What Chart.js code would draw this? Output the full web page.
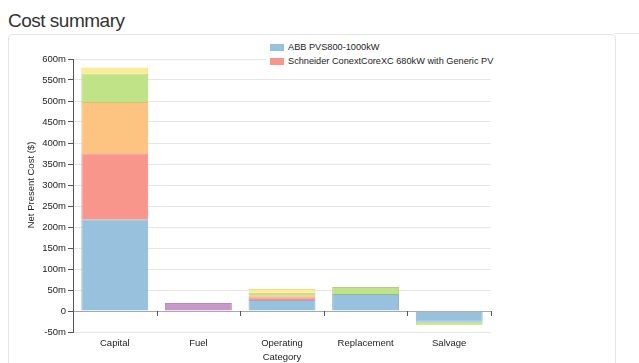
<!DOCTYPE html>
<html>
<head>
<meta charset="utf-8">
<script src="https://cdn.jsdelivr.net/npm/chart.js@4/dist/chart.umd.min.js"></script>
<style>
  html, body { margin: 0; padding: 0; background: #fff; }
  body { width: 639px; height: 363px; position: relative; overflow: hidden;
         font-family: "Liberation Sans", Arial, Helvetica, sans-serif; }
  h2 { position: absolute; left: 8px; top: 11px; margin: 0; font-size: 19px; line-height: 19px;
       letter-spacing: -0.5px; font-weight: normal; color: #333; }
  .panel { position: absolute; left: 8px; top: 34px; width: 606px; height: 360px;
           border: 1px solid #e4e4e4; border-radius: 4px; }
  .rule { position: absolute; left: 614px; top: 33px; width: 25px; height: 1px; background: #e8e8e8; }
  #chart { position: absolute; left: 0; top: 0; }
  #legend { position: absolute; left: 266px; top: 39px; background: #fff; padding: 1px 4px 1px 4px;
            font-size: 9.2px; color: #222; }
  #legend .row { height: 14px; display: flex; align-items: center; white-space: nowrap; }
  #legend .sw { width: 14px; height: 7px; margin-right: 4px; }
</style>
</head>
<body>
<h2>Cost summary</h2>
<div class="panel"></div>
<div class="rule"></div>
<canvas id="chart" width="639" height="363"></canvas>
<div id="legend"></div>
<script>
// Net present cost by category, in millions of dollars (null = no cost in that category)
const categories = ['Capital', 'Fuel', 'Operating', 'Replacement', 'Salvage'];
const abbPvs800 = [218.6, null, 26, 40.5, -25.5];
const schneiderConext = [157, null, 6.6, null, null];
const pvArray = [122, null, 4.8, null, null];
const storage = [68, null, 6.2, 16.5, -7.5];
const otherCosts = [14, null, 8.8, null, null];
const generator = [null, 19, null, null, null];
const legendNames = ['ABB PVS800-1000kW', 'Schneider ConextCoreXC 680kW with Generic PV'];
const yTicks = { min: -50, max: 600, step: 50 };

const FONT = '"Liberation Sans", Arial, Helvetica, sans-serif';

function series(label, data, fill, edge) {
  return { label, data, backgroundColor: fill, borderColor: edge, borderWidth: 1,
           barPercentage: 0.8, categoryPercentage: 1.0 };
}

const datasets = [
  series(legendNames[0], abbPvs800, '#97c1dd', '#86b1cf'),
  series(legendNames[1], schneiderConext, '#f9968c', '#ea877e'),
  series('PV', pvArray, '#fcc480', '#efb46f'),
  series('Storage', storage, '#bfe386', '#afd676'),
  series('Other', otherCosts, '#fdec88', '#f2de77'),
  series('Generator', generator, '#c998ca', '#ba88bc')
];

// Y-axis title centred over the 0..max span, plus boundary ticks on the zero line
const decorations = {
  id: 'decorations',
  afterDraw(chart) {
    const { ctx, scales: { x, y } } = chart;
    const y0 = y.getPixelForValue(0);
    ctx.save();
    ctx.strokeStyle = '#555';
    ctx.lineWidth = 1;
    for (let i = 0; i < categories.length; i++) {
      const px = Math.round(x.getPixelForValue(i + 0.5)) + 0.5;
      ctx.beginPath();
      ctx.moveTo(px, y0);
      ctx.lineTo(px, y0 + 5);
      ctx.stroke();
    }
    const cy = (y.getPixelForValue(yTicks.max) + y0) / 2;
    ctx.translate(31, cy);
    ctx.rotate(-Math.PI / 2);
    ctx.fillStyle = '#222';
    ctx.font = '9.5px ' + FONT;
    ctx.textAlign = 'center';
    ctx.textBaseline = 'middle';
    ctx.fillText('Net Present Cost ($)', 0, 0);
    ctx.restore();
  }
};

const chart = new Chart(document.getElementById('chart'), {
  type: 'bar',
  data: { labels: categories, datasets },
  plugins: [decorations],
  options: {
    responsive: false,
    animation: false,
    devicePixelRatio: 1,
    layout: { padding: { left: 0, right: 148, top: 59, bottom: 0 } },
    plugins: { legend: { display: false }, tooltip: { enabled: false } },
    scales: {
      x: {
        stacked: true,
        grid: { display: false, drawTicks: false },
        border: { display: false },
        ticks: { color: '#222', font: { family: FONT, size: 9.5 }, padding: 6, maxRotation: 0 },
        title: { display: true, text: 'Category', color: '#222',
                 font: { family: FONT, size: 9.5 }, padding: { top: 0, bottom: 0 } },
        afterFit(scale) { scale.height = 31; }
      },
      y: {
        stacked: true,
        min: yTicks.min,
        max: yTicks.max,
        ticks: {
          stepSize: yTicks.step,
          color: '#222',
          padding: 2,
          font: { family: FONT, size: 9.5 },
          callback: v => (v === 0 ? '0' : v + 'm')
        },
        grid: {
          color: c => (c.tick && c.tick.value === 0 ? '#a8a8a8' : '#e6e6e6'),
          tickColor: '#555',
          tickLength: 5
        },
        border: { display: true, color: '#555', width: 1 },
        afterFit(scale) { scale.width = 73; }
      }
    }
  }
});

// Legend lists the two named systems
const legend = document.getElementById('legend');
datasets.slice(0, 2).forEach(ds => {
  const row = document.createElement('div');
  row.className = 'row';
  const sw = document.createElement('span');
  sw.className = 'sw';
  sw.style.background = ds.backgroundColor;
  const txt = document.createElement('span');
  txt.textContent = ds.label;
  row.appendChild(sw);
  row.appendChild(txt);
  legend.appendChild(row);
});
</script>
</body>
</html>
